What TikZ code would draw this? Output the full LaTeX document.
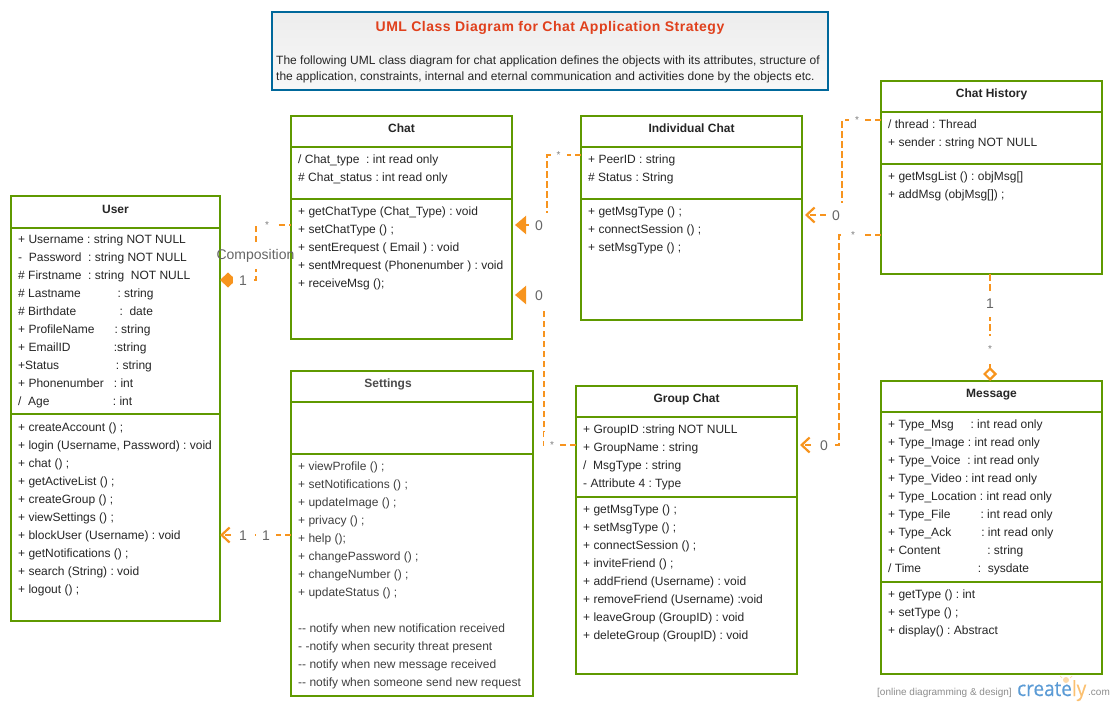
\documentclass[tikz,border=0pt]{standalone}
\usepackage{fontspec}
\setmainfont{Liberation Sans}
\newfontfamily\logofont[FakeStretch=0.9, FakeBold=0.4]{Open Sans}
\usepackage{xcolor}
\definecolor{classgreen}{HTML}{5F9900}
\definecolor{linkorange}{HTML}{F7941E}
\definecolor{titleblue}{HTML}{00689B}
\definecolor{titlered}{HTML}{E0401C}
\definecolor{logoblue}{HTML}{5B9BD5}
\definecolor{logoyellow}{HTML}{FBC070}
\usetikzlibrary{positioning, arrows.meta}
\frenchspacing

\begin{document}
\begin{tikzpicture}[
  x=1pt, y=-1pt,
  font=\fontsize{12pt}{18pt}\selectfont,
  head/.style={draw=classgreen, line width=2pt, fill=white, outer sep=0pt, inner sep=0pt,
               minimum width=#1, minimum height=31pt, text height=9pt, text depth=7pt,
               font=\fontsize{12pt}{18pt}\selectfont\bfseries, text=black!85},
  part/.style={draw=classgreen, line width=2pt, fill=white, outer sep=0pt, inner sep=0pt,
               minimum width=#1},
  rows/.style={anchor=north west, align=left, inner sep=0pt, text=black!85,
               xshift=7pt, yshift=-7.4pt, execute at begin node=\strut},
  flow/.style={linkorange, line width=2.2pt, dash pattern=on 6.5pt off 3.5pt},
  lbl/.style={fill=white, text=black!60, inner sep=0pt, minimum width=20pt, minimum height=26pt,
              yshift=-1pt, font=\fontsize{14pt}{14pt}\selectfont},
  star/.style={fill=white, text=black!50, inner sep=0pt, minimum width=16pt, minimum height=26pt,
               font=\fontsize{10pt}{10pt}\selectfont},
  mark text/.style={text=black!45, inner sep=0pt, font=\fontsize{10pt}{10pt}\selectfont, anchor=base west}
]
  \useasboundingbox (0,0) rectangle (1115,706);

  % heading box
  \node[draw=titleblue, line width=2pt, top color=black!7, bottom color=black!3, outer sep=0pt,
        minimum width=556pt, minimum height=78pt, anchor=north west] (titlebox) at (272,12) {};
  \node[text=titlered, font=\fontsize{14pt}{14pt}\selectfont\bfseries\addfontfeatures{LetterSpace=3.5}]
        (heading) at ([yshift=-15.5pt]titlebox.north) {UML Class Diagram for Chat Application Strategy};
  \node[anchor=north west, align=left, inner sep=0pt, text=black!85, font=\fontsize{12pt}{16pt}\selectfont,
        execute at begin node=\strut] (intro) at (276,56)
        {The following UML class diagram for chat application defines the objects with its attributes, structure of\\
         the application, constraints, internal and eternal communication and activities done by the objects etc.};

  % user
  \node[head=209pt, minimum height=32pt, anchor=north west] (user) at (11,196) {User};
  \node[part=209pt, minimum height=186pt, below=0pt of user] (userattr) {};
  \node[part=209pt, minimum height=207pt, below=0pt of userattr] (usermeth) {};
  \node[rows, yshift=1pt] (userattrs) at (userattr.north west)
    {+ Username : string NOT NULL\\
     -~~Password~~: string NOT NULL\\
     \#~Firstname~~: string~~NOT NULL\\
     \#~Lastname~~~~~~~~~~~: string\\
     \#~Birthdate~~~~~~~~~~~~~:~~date\\
     + ProfileName~~~~~~: string\\
     + EmailID~~~~~~~~~~~~~:string\\
     +Status~~~~~~~~~~~~~~~~~: string\\
     + Phonenumber~~~: int\\
     /~~Age~~~~~~~~~~~~~~~~~~~: int};
  \node[rows, yshift=-1pt] (usermeths) at (usermeth.north west)
    {+ createAccount () ;\\
     + login (Username, Password) : void\\
     + chat () ;\\
     + getActiveList () ;\\
     + createGroup () ;\\
     + viewSettings () ;\\
     + blockUser (Username) : void\\
     + getNotifications () ;\\
     + search (String) : void\\
     + logout () ;};

  % chat
  \node[head=221pt, anchor=north west] (chat) at (291,116) {Chat};
  \node[part=221pt, minimum height=52pt, below=0pt of chat] (chatattr) {};
  \node[part=221pt, minimum height=140pt, below=0pt of chatattr] (chatmeth) {};
  \node[rows] (chatattrs) at (chatattr.north west)
    {/ Chat\_type~~: int read only\\
     \# Chat\_status : int read only};
  \node[rows] (chatmeths) at (chatmeth.north west)
    {+ getChatType (Chat\_Type) : void\\
     + setChatType () ;\\
     + sentErequest ( Email ) : void\\
     + sentMrequest (Phonenumber ) : void\\
     + receiveMsg ();};

  % individual chat
  \node[head=221pt, anchor=north west] (indiv) at (581,116) {Individual Chat};
  \node[part=221pt, minimum height=52pt, below=0pt of indiv] (indivattr) {};
  \node[part=221pt, minimum height=121pt, below=0pt of indivattr] (indivmeth) {};
  \node[rows] (indivattrs) at (indivattr.north west)
    {+ PeerID : string\\
     \# Status : String};
  \node[rows] (indivmeths) at (indivmeth.north west)
    {+ getMsgType () ;\\
     + connectSession () ;\\
     + setMsgType () ;};

  % chat history
  \node[head=221pt, anchor=north west] (hist) at (881,81) {Chat History};
  \node[part=221pt, minimum height=52pt, below=0pt of hist] (histattr) {};
  \node[part=221pt, minimum height=110pt, below=0pt of histattr] (histmeth) {};
  \node[rows] (histattrs) at (histattr.north west)
    {/ thread : Thread\\
     + sender : string NOT NULL};
  \node[rows] (histmeths) at (histmeth.north west)
    {+ getMsgList () : objMsg[]\\
     + addMsg (objMsg[]) ;};

  % settings
  \node[head=242pt, anchor=north west, text=black!70] (settings) at (291,371) {\hspace*{-48pt}Settings};
  \node[part=242pt, minimum height=52pt, below=0pt of settings] (setattr) {};
  \node[part=242pt, minimum height=242pt, below=0pt of setattr] (setmeth) {};
  \node[rows, text=black!75] (setmeths) at (setmeth.north west)
    {+ viewProfile () ;\\
     + setNotifications () ;\\
     + updateImage () ;\\
     + privacy () ;\\
     + help ();\\
     + changePassword () ;\\
     + changeNumber () ;\\
     + updateStatus () ;\\[18pt]
     -{}- notify when new notification received\\
     - -notify when security threat present\\
     -{}- notify when new message received\\
     -{}- notify when someone send new request};

  % group chat
  \node[head=221pt, anchor=north west] (group) at (576,386) {Group Chat};
  \node[part=221pt, minimum height=80pt, below=0pt of group] (groupattr) {};
  \node[part=221pt, minimum height=177pt, below=0pt of groupattr] (groupmeth) {};
  \node[rows] (groupattrs) at (groupattr.north west)
    {+ GroupID :string NOT NULL\\
     + GroupName : string\\
     /~~MsgType : string\\
     - Attribute 4 : Type};
  \node[rows] (groupmeths) at (groupmeth.north west)
    {+ getMsgType () ;\\
     + setMsgType () ;\\
     + connectSession () ;\\
     + inviteFriend () ;\\
     + addFriend (Username) : void\\
     + removeFriend (Username) :void\\
     + leaveGroup (GroupID) : void\\
     + deleteGroup (GroupID) : void};

  % message
  \node[head=221pt, anchor=north west] (msg) at (881,381) {Message};
  \node[part=221pt, minimum height=170pt, below=0pt of msg] (msgattr) {};
  \node[part=221pt, minimum height=92pt, below=0pt of msgattr] (msgmeth) {};
  \node[rows] (msgattrs) at (msgattr.north west)
    {+ Type\_Msg~~~~~: int read only\\
     + Type\_Image : int read only\\
     + Type\_Voice~~: int read only\\
     + Type\_Video : int read only\\
     + Type\_Location : int read only\\
     + Type\_File~~~~~~~~~: int read only\\
     + Type\_Ack~~~~~~~~~: int read only\\
     + Content~~~~~~~~~~~~~~: string\\
     / Time~~~~~~~~~~~~~~~~~:~~sysdate};
  \node[rows] (msgmeths) at (msgmeth.north west)
    {+ getType () : int\\
     + setType () ;\\
     + display() : Abstract};

  % links between the classes
  \draw[flow, {Diamond[length=16pt, width=15pt, line width=0pt]}-]
    ([yshift=-52pt]userattr.north east) -- ++(36,0) |- ([yshift=-26pt]chatmeth.north west);
  \draw[flow, -{Triangle[length=11pt, width=18pt]}, shorten >=3pt]
    ([yshift=-8pt]indivattr.north west) -- ++(-34,0) |- ([yshift=-26pt]chatmeth.north east);
  \draw[flow, -{Triangle[length=11pt, width=18pt]}, shorten >=3pt]
    ([yshift=-28pt]groupattr.north west) -- ++(-32,0) |- ([yshift=-96pt]chatmeth.north east);
  \draw[flow, -{Straight Barb[length=8pt, width=15pt]}, shorten >=3pt]
    ([yshift=-8pt]histattr.north west) -- ++(-39,0) |- ([yshift=-16pt]indivmeth.north east);
  \draw[flow, -{Straight Barb[length=8pt, width=15pt]}, shorten >=3pt]
    ([yshift=-71pt]histmeth.north west) -- ++(-42,0) |- ([yshift=-28pt]groupattr.north east);
  \draw[flow, -{Straight Barb[length=8pt, width=15pt]}]
    ([yshift=-81pt]setmeth.north west) -- ([yshift=-121pt]usermeth.north east);
  \draw[flow, -{Diamond[open, length=14pt, width=14pt]}]
    ([xshift=-1.5pt]histmeth.south) -- ([xshift=-1.5pt]msg.north);

  % multiplicities
  \node[lbl, inner xsep=-4pt, minimum width=0pt] (lblcomp) at (255.5,255) {Composition};
  \node[lbl] (lbluser) at (243,280) {1};
  \node[star] (staruser) at (267,225) {*};
  \node[lbl] (lblindiv) at (539,225) {0};
  \node[star] (starindiv) at (558.5,155) {*};
  \node[lbl] (lblgroup) at (539,295) {0};
  \node[star] (stargroup) at (552,445) {*};
  \node[lbl] (lblhist) at (836,215) {0};
  \node[star] (starhist) at (857,120) {*};
  \node[lbl] (lblhistg) at (824,445) {0};
  \node[star] (starhistg) at (853,235) {*};
  \node[lbl] (lblset) at (243,535) {1};
  \node[lbl] (lblsetb) at (266,535) {1};
  \node[lbl] (lblmsg) at (990,303) {1};
  \node[star] (starmsg) at (990,349) {*};

  % watermark
  \node[mark text] (online) at (877,695) {[online diagramming \& design]};
  \node[inner sep=0pt, anchor=base west, font=\logofont\fontsize{21pt}{21pt}\selectfont]
    (logo) at (1017,696) {\textcolor{logoblue}{create}\textcolor{logoyellow}{ly}};
  \node[mark text] (logocom) at (1088,695) {.com};
  \fill[logoyellow!60] (1066,680) circle (3);
  \draw[logoyellow!60, line width=0.7pt] (1060,676) -- (1062,678) (1072,676) -- (1070,678);
\end{tikzpicture}
\end{document}
